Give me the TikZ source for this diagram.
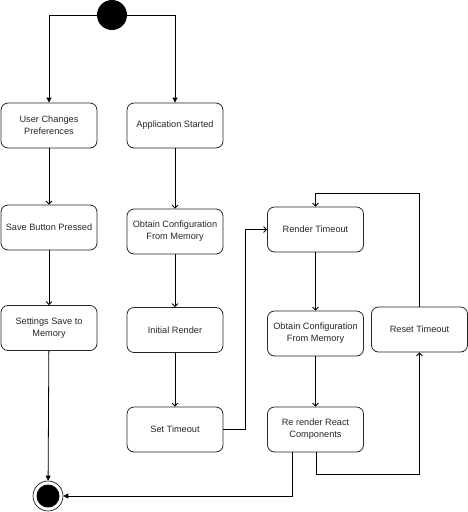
\documentclass[tikz,border=0pt]{standalone}
\usepackage{fontspec}
\setmainfont{Liberation Sans}
\usetikzlibrary{arrows.meta}
\begin{document}
\begin{tikzpicture}[x=1pt,y=-1pt,
  state/.style={draw=black!85,line width=0.8pt,rounded corners=7pt,minimum width=96pt,minimum height=45pt,align=center,font=\fontsize{9.2}{12}\selectfont,text=black!85,inner sep=2pt},
  flow/.style={draw=black,line width=0.8pt,-{Straight Barb[length=3pt,width=6pt]}},
  fflow/.style={draw=black,line width=0.8pt,-{Triangle[length=5pt,width=5pt]}}]
\useasboundingbox (0,0) rectangle (468,512);
\node[circle,fill=black,minimum size=30pt,inner sep=0pt] (start) at (112,15) {};
\node[state] (ucp) at (49,125.5) {User Changes\\Preferences};
\node[state] (as) at (175,125.5) {Application Started};
\node[state] (sbp) at (49,227.5) {Save Button Pressed};
\node[state] (ssm) at (49,328) {Settings Save to\\Memory};
\node[state] (ocl) at (175,231.5) {Obtain Configuration\\From Memory};
\node[state] (ir) at (175,330) {Initial Render};
\node[state] (st) at (175,429.5) {Set Timeout};
\node[state] (rt) at (315.5,229.5) {Render Timeout};
\node[state] (ocr) at (315.5,333.5) {Obtain Configuration\\From Memory};
\node[state] (rr) at (315.5,429.5) {Re render React\\Components};
\node[state] (rst) at (419.5,329.5) {Reset Timeout};
\node[circle,draw=black,line width=0.6pt,minimum size=30pt,inner sep=0pt] (endo) at (48,496) {};
\node[circle,fill=black,minimum size=23pt,inner sep=0pt] (endi) at (48,496) {};
\coordinate (c1) at (245,429.5);
\draw[fflow] (start.west) -| (ucp.north);
\draw[fflow] (start.east) -| (as.north);
\draw[flow] (ucp) -- (sbp);
\draw[flow] (sbp) -- (ssm);
\draw[fflow] (ssm) -- (endo);
\draw[flow] (as) -- (ocl);
\draw[flow] (ocl) -- (ir);
\draw[flow] (ir) -- (st);
\draw[flow] (st.east) -- (c1) |- (rt.west);
\draw[flow] (rt) -- (ocr);
\draw[flow] (ocr) -- (rr);
\draw[flow] ([xshift=0.5pt]rr.south) -- ++(0,22) -| (rst.south);
\draw[flow] (rst.north) |- (315.5,193) -- (rt.north);
\draw[fflow] ([xshift=-23pt]rr.south) |- (endo.east);
\end{tikzpicture}
\end{document}
